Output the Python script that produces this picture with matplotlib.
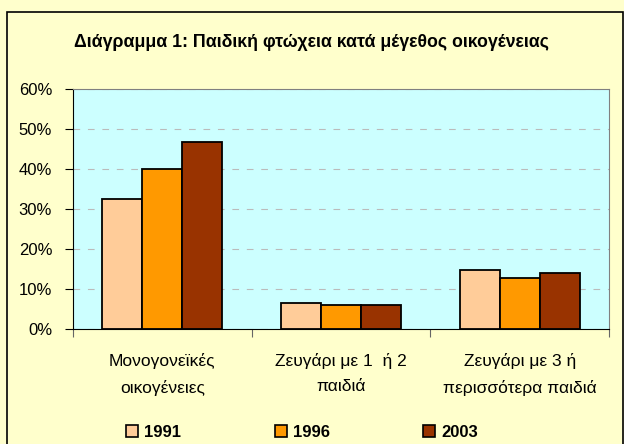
import matplotlib.pyplot as plt
import numpy as np
from matplotlib.patches import Rectangle, Patch

plt.rcParams['font.family'] = ['Liberation Sans', 'DejaVu Sans']

# data
categories = ["Μονογονεϊκές\nοικογένειες", "Ζευγάρι με 1  ή 2\nπαιδιά", "Ζευγάρι με 3 ή\nπερισσότερα παιδιά"]
years = ["1991", "1996", "2003"]
v1991 = [32.4, 6.4, 14.8]
v1996 = [40.0, 5.9, 12.8]
v2003 = [46.8, 5.9, 14.0]
series = [v1991, v1996, v2003]
colors = ["#FFCC99", "#FF9900", "#993300"]

fig = plt.figure(figsize=(6.24, 4.44), dpi=100)
fig.patch.set_facecolor("#FFFFCC")
# outer chart border
fig.patches.append(Rectangle((7 / 624, -0.05), 616 / 624, 1.05 - 12 / 444, transform=fig.transFigure,
                             fill=False, edgecolor="black", linewidth=1.2))

ax = fig.add_axes([73 / 624, 1 - 329 / 444, 536 / 624, 240 / 444])
ax.set_facecolor("#CCFFFF")

x = np.arange(len(categories))
width = 0.224
for i, (vals, c) in enumerate(zip(series, colors)):
    ax.bar(x + (i - 1) * width, vals, width, color=c, edgecolor="black", linewidth=1.3,
           label=years[i], zorder=3)

ax.set_xlim(-0.5, 2.5)
ax.set_ylim(0, 60)
ax.set_yticks(range(0, 61, 10))
ax.set_yticklabels([f"{t}%" for t in range(0, 61, 10)], fontsize=12)
ax.set_axisbelow(True)
ax.yaxis.grid(True, color="#BBBBBB", linestyle=(0, (6, 7)), linewidth=0.8)

# category labels in the middle, ticks between categories
ax.set_xticks([-0.5, 0.5, 1.5, 2.5])
ax.set_xticklabels([])
ax.set_xticks(x, minor=True)
ax.set_xticklabels(categories, minor=True, fontsize=12.5, linespacing=1.9)
ax.tick_params(axis='x', which='minor', length=0, pad=17)
ax.tick_params(axis='x', which='major', length=6, color="#666666")
ax.tick_params(axis='y', length=6, pad=9)

for s in ["top", "right"]:
    ax.spines[s].set_color("#808080")
for s in ["left", "bottom"]:
    ax.spines[s].set_color("black")

fig.text(0.5, 1 - 47 / 444, "Διάγραμμα 1: Παιδική φτώχεια κατά μέγεθος οικογένειας",
         ha="center", va="baseline", fontsize=12.8, fontweight="bold")

handles = [Patch(facecolor=c, edgecolor="black", linewidth=1.2) for c in colors]
leg = fig.legend(handles, years, loc="center", bbox_to_anchor=(302 / 624, 1 - 432 / 444), ncol=3,
                 frameon=False, handlelength=0.72, handleheight=0.72, handletextpad=0.36,
                 columnspacing=5.6, prop={"weight": "bold", "size": 12})

plt.savefig("out.png", dpi=100, facecolor=fig.get_facecolor())
